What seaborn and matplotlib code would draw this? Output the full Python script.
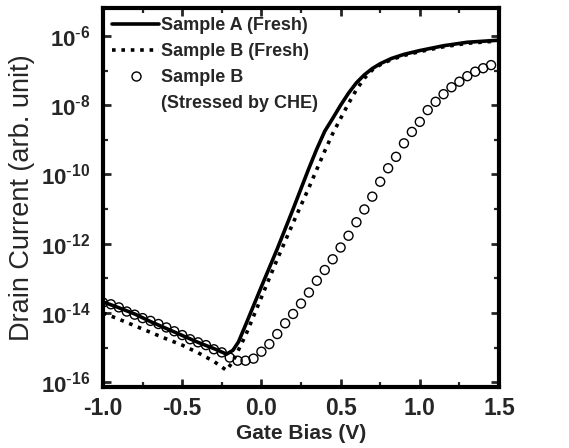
import numpy as np
import pandas as pd
import matplotlib
matplotlib.use("Agg")
import matplotlib.pyplot as plt
import seaborn as sns
from matplotlib.ticker import FixedLocator, FuncFormatter, MultipleLocator, NullFormatter
from matplotlib.lines import Line2D

# ---- data ----
xa = [-1.0, -0.9, -0.8, -0.7, -0.6, -0.5, -0.4, -0.3, -0.22, -0.18, -0.145, -0.1, 0.0,
      0.1, 0.2, 0.3, 0.35, 0.40, 0.45, 0.50, 0.55, 0.60, 0.65, 0.70, 0.75, 0.82, 0.90,
      1.0, 1.15, 1.3, 1.5]
loga = [-13.68, -13.85, -14.03, -14.25, -14.45, -14.65, -14.85, -15.03, -15.19, -15.08, -14.84,
        -14.35, -13.24, -12.15, -11.0, -9.82, -9.26, -8.75, -8.38, -8.0, -7.65, -7.35, -7.12,
        -6.94, -6.80, -6.65, -6.53, -6.42, -6.28, -6.18, -6.12]

xb = [-1.0, -0.9, -0.8, -0.7, -0.6, -0.5, -0.4, -0.3, -0.22, -0.18, -0.1, 0.0, 0.1, 0.2,
      0.3, 0.35, 0.40, 0.45, 0.50, 0.55, 0.60, 0.65, 0.70, 0.75, 0.82, 0.90, 1.0, 1.15, 1.3, 1.5]
logb = [-14.0, -14.18, -14.37, -14.56, -14.75, -14.93, -15.15, -15.4, -15.66, -15.4, -14.65,
        -13.55, -12.45, -11.4, -10.38, -9.85, -9.32, -8.82, -8.38, -7.95, -7.55, -7.22, -6.98,
        -6.83, -6.68, -6.56, -6.45, -6.31, -6.21, -6.14]

xc = [round(-1.0 + 0.05 * i, 2) for i in range(50)]
logc = [-13.70, -13.75, -13.84, -13.96, -14.05, -14.15, -14.23, -14.32, -14.42, -14.53,
        -14.64, -14.76, -14.85, -14.93, -15.05, -15.14, -15.29, -15.38, -15.38, -15.32,
        -15.12, -14.90, -14.61, -14.30, -14.03, -13.73, -13.41, -13.07, -12.76, -12.45,
        -12.11, -11.77, -11.38, -11.01, -10.64, -10.21, -9.82, -9.49, -9.10, -8.77,
        -8.48, -8.14, -7.90, -7.68, -7.48, -7.32, -7.16, -7.03, -6.93, -6.84]

labels = ["Sample A (Fresh)", "Sample B (Fresh)", "Sample B\n(Stressed by CHE)"]

dfa = pd.DataFrame({"x": xa, "y": np.power(10.0, loga)})
dfb = pd.DataFrame({"x": xb, "y": np.power(10.0, logb)})
dfc = pd.DataFrame({"x": xc, "y": np.power(10.0, logc)})

sns.set_theme(style="white")
plt.rcParams["font.family"] = ["Liberation Sans", "DejaVu Sans"]

fig = plt.figure(figsize=(5.69, 4.48), dpi=100)
ax = fig.add_axes([103 / 569, 1 - 387 / 448, (499 - 103) / 569, (387 - 8) / 448])

DOT = (0, (1, 1.6))
sns.lineplot(data=dfa, x="x", y="y", ax=ax, color="black", lw=2.6, estimator=None, sort=False)
sns.lineplot(data=dfb, x="x", y="y", ax=ax, color="black", lw=2.6, estimator=None, sort=False,
             linestyle=DOT)
sns.scatterplot(data=dfc, x="x", y="y", ax=ax, marker="o", s=42, facecolor="none",
                edgecolor="black", linewidth=1.0, zorder=3)

ax.set_yscale("log")
ax.set_xlim(-1.0, 1.5)
ax.set_ylim(10 ** -16.14, 10 ** -5.19)

ax.xaxis.set_major_locator(MultipleLocator(0.5))
ax.xaxis.set_minor_locator(MultipleLocator(0.25))
ax.xaxis.set_major_formatter(FuncFormatter(lambda v, p: f"{v:.1f}"))
ax.yaxis.set_major_locator(FixedLocator([10.0 ** e for e in range(-16, -5, 2)]))
ax.yaxis.set_minor_locator(FixedLocator([10.0 ** e for e in range(-17, -4)]))
ax.yaxis.set_major_formatter(FuncFormatter(
    lambda v, p: r"$\mathdefault{10^{\text{-}%d}}$" % abs(round(np.log10(v)))))
ax.yaxis.set_minor_formatter(NullFormatter())

ax.tick_params(which="both", direction="in", top=True, right=True, bottom=True, left=True)
ax.tick_params(which="major", length=6, width=2.0)
ax.tick_params(axis="x", which="major", labelsize=16.5, pad=7)
ax.tick_params(axis="y", which="major", labelsize=16, pad=9)
ax.tick_params(which="minor", length=3.5, width=1.6)
for lab in ax.get_xticklabels() + ax.get_yticklabels():
    lab.set_fontweight("bold")
for s in ax.spines.values():
    s.set_linewidth(3.0)
    s.set_color("black")

ax.set_xlabel("Gate Bias (V)", fontsize=15, fontweight="bold", labelpad=3)
ax.set_ylabel("Drain Current (arb. unit)", fontsize=19.5, labelpad=4)

# legend: the two-line label is shown as two rows, the marker beside the first row
leg_labels = labels[:2] + labels[2].split("\n")
handles = [Line2D([], [], color="black", lw=2.6),
           Line2D([], [], color="black", lw=2.6, linestyle=DOT),
           Line2D([], [], color="black", lw=0, marker="o", markersize=6.5,
                  markerfacecolor="none", markeredgewidth=1.0),
           Line2D([], [], color="none", lw=0)]
ax.legend(handles, leg_labels, loc="upper left", frameon=False,
          prop={"weight": "bold", "size": 13}, handlelength=2.6, handletextpad=0.1,
          labelspacing=0.5, borderaxespad=0.0, borderpad=0.5, bbox_to_anchor=(0.0, 1.0))

fig.savefig("out.png", dpi=100)
